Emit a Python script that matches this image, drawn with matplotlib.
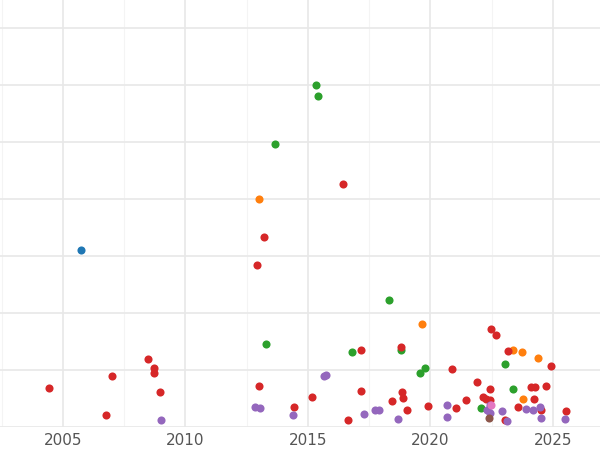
import matplotlib.pyplot as plt
from matplotlib.ticker import MultipleLocator

# values (year, value)
blue_x = [2005.73]
blue_y = [3.11]

green_x = [2015.33, 2015.41, 2013.65, 2018.31, 2013.29, 2016.80, 2018.80, 2019.78,
           2019.57, 2023.04, 2023.37, 2022.06]
green_y = [6.00, 5.81, 4.96, 2.23, 1.46, 1.32, 1.35, 1.04, 0.95, 1.11, 0.67, 0.33]

orange_x = [2013.0, 2019.65, 2023.37, 2023.74, 2024.39, 2023.78]
orange_y = [4.0, 1.81, 1.35, 1.32, 1.21, 0.49]

red_x = [2004.43, 2006.76, 2007.0, 2008.47, 2008.72, 2008.72, 2008.96, 2012.92, 2013.21,
         2016.43, 2013.0, 2014.43, 2015.16, 2016.63, 2017.16, 2017.16, 2018.43, 2018.80,
         2018.84, 2018.88, 2019.04, 2019.90, 2020.88, 2021.04, 2021.45, 2021.90, 2022.14,
         2022.27, 2022.43, 2022.47, 2022.67, 2023.16, 2023.57, 2023.04, 2024.10, 2024.27,
         2024.22, 2024.71, 2024.92, 2025.53, 2022.43, 2024.51]
red_y = [0.68, 0.21, 0.89, 1.19, 1.04, 0.95, 0.61, 2.84, 3.33,
         4.26, 0.72, 0.35, 0.53, 0.12, 1.35, 0.63, 0.46, 1.40,
         0.61, 0.51, 0.30, 0.37, 1.02, 0.33, 0.47, 0.79, 0.53,
         0.49, 0.67, 1.72, 1.61, 1.33, 0.35, 0.12, 0.70, 0.70,
         0.49, 0.72, 1.07, 0.28, 0.47, 0.30]

purple_x = [2009.0, 2012.84, 2013.04, 2014.39, 2015.65, 2015.73, 2017.29, 2017.74, 2017.9,
            2018.67, 2020.67, 2020.67, 2022.43, 2022.43, 2022.92, 2023.12, 2023.9, 2024.18,
            2024.47, 2024.51, 2025.49, 2022.31]
purple_y = [0.12, 0.35, 0.33, 0.21, 0.89, 0.91, 0.23, 0.30, 0.30,
            0.14, 0.39, 0.18, 0.39, 0.25, 0.28, 0.11, 0.32, 0.30,
            0.35, 0.16, 0.14, 0.30]

brown_x = [2022.39]
brown_y = [0.16]
pink_x = [2022.47]
pink_y = [0.39]

fig = plt.figure(figsize=(6, 4.5), dpi=100)
ax = fig.add_axes([0, 23 / 450, 1, 427 / 450])

series = [
    (blue_x, blue_y, '#1f77b4'),
    (green_x, green_y, '#2ca02c'),
    (orange_x, orange_y, '#ff7f0e'),
    (red_x, red_y, '#d62728'),
    (purple_x, purple_y, '#9467bd'),
    (brown_x, brown_y, '#8c564b'),
    (pink_x, pink_y, '#e377c2'),
]
for xs, ys, c in series:
    ax.scatter(xs, ys, s=34, color=c, linewidths=0, zorder=3)

ax.set_xlim(2002.43, 2026.92)
ax.set_ylim(0, 427 / 57)
ax.xaxis.set_major_locator(MultipleLocator(5))
ax.xaxis.set_minor_locator(MultipleLocator(2.5))
ax.yaxis.set_major_locator(MultipleLocator(1))
ax.grid(which='major', color='#e8e8e8', linewidth=1.2)
ax.grid(which='minor', axis='x', color='#f4f4f4', linewidth=0.8)
ax.set_axisbelow(True)
for s in ax.spines.values():
    s.set_visible(False)
ax.tick_params(axis='y', left=False, labelleft=False)
ax.tick_params(axis='x', which='both', length=0, labelsize=11, labelcolor='#555555', pad=4)

fig.savefig('out.png', dpi=100)
